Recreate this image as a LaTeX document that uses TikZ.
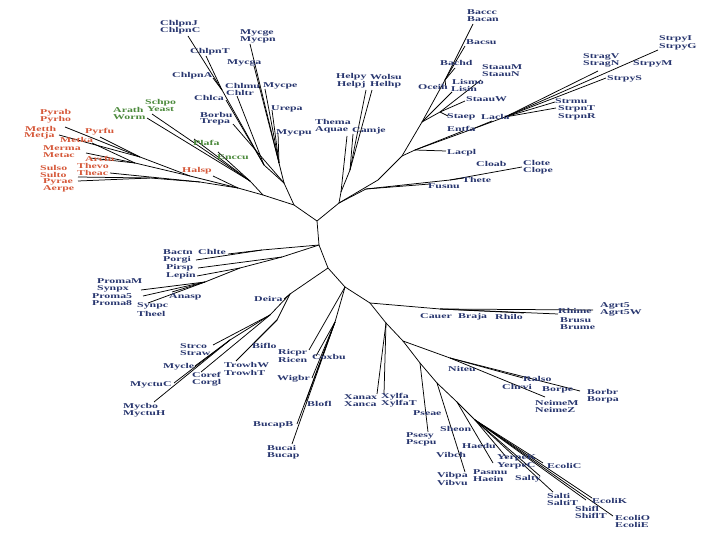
\documentclass[tikz,border=0pt]{standalone}
\usepackage{fontspec}
\newfontfamily\labfont{Liberation Serif}[FakeStretch=1.6]
\definecolor{tblue}{HTML}{28366F}
\definecolor{tred}{HTML}{D6593A}
\definecolor{tgreen}{HTML}{4C8A3C}
\tikzset{
  br/.style={line width=0.75pt, black},
  lab/.style={font=\labfont\bfseries\fontsize{7.4}{7}\selectfont, inner sep=0pt, anchor=west},
  lb/.style={lab, text=tblue},
  lr/.style={lab, text=tred},
  lg/.style={lab, text=tgreen}
}
\begin{document}
\begin{tikzpicture}[x=1pt,y=-1pt]
\useasboundingbox[fill=white] (0,0) rectangle (720,540);
% ---------- internal nodes ----------
\coordinate (R) at (317,221);
\coordinate (B1) at (319,245);
\coordinate (N3) at (328,268);
\coordinate (L0) at (294,205);
\coordinate (UR) at (339,203);
\coordinate (L1) at (263,195);
\coordinate (G) at (284,183);
\coordinate (AR) at (238,188);
\coordinate (EU) at (250,181);
\coordinate (A1) at (200,182);
\coordinate (A2) at (150,178);
\coordinate (A3) at (190,176);
\coordinate (A4) at (140,157);
\coordinate (A5) at (135,163);
\coordinate (CH) at (264,165);
\coordinate (CHp) at (222,90);
\coordinate (MY) at (279,163);
\coordinate (EP) at (341,192);
\coordinate (EP2) at (350,170);
\coordinate (FU) at (366,189);
\coordinate (CLn) at (450,180);
\coordinate (FR) at (378,180);
\coordinate (F1) at (402,156);
\coordinate (BS) at (422,122);
\coordinate (BAC) at (445,80);
\coordinate (STA) at (440,112);
\coordinate (LB) at (415,150);
\coordinate (LC) at (470,130);
\coordinate (ST) at (505,117);
\coordinate (CB) at (262,250);
\coordinate (X1) at (282,257);
\coordinate (X2) at (240,268);
\coordinate (CY) at (205,282);
\coordinate (AC) at (290,294);
\coordinate (AC2) at (270,315);
\coordinate (BT) at (277,320);
\coordinate (MYc) at (230,340);
\coordinate (RK) at (345,287);
\coordinate (RK2) at (335,322);
\coordinate (N4) at (370,303);
\coordinate (AL) at (440,309);
\coordinate (N5) at (386,323);
\coordinate (N6) at (403,341);
\coordinate (BE) at (450,358);
\coordinate (N7) at (420,363);
\coordinate (N8) at (437,383);
\coordinate (N9) at (457,402);
\coordinate (N10) at (475,420);
% ---------- leaf tips ----------
\coordinate (tSulso) at (78,177);
\coordinate (tPyrae) at (78,181);
\coordinate (tThevo) at (110,173);
\coordinate (tHalsp) at (213,176);
\coordinate (tPyrab) at (65,127);
\coordinate (tMetth) at (59,135);
\coordinate (tPyrfu) at (100,137);
\coordinate (tMetka) at (92,143);
\coordinate (tMerma) at (86,153);
\coordinate (tArcfu) at (90,158);
\coordinate (tSchpo) at (152,114);
\coordinate (tArath) at (147,118);
\coordinate (tPlafa) at (194,139);
\coordinate (tEnccu) at (218,152);
\coordinate (tChlpnJ) at (188,36);
\coordinate (tChlpnT) at (206,56);
\coordinate (tChlpnA) at (213,78);
\coordinate (tChlca) at (226,100);
\coordinate (tChlmu) at (237,96);
\coordinate (tBorbu) at (233,124);
\coordinate (tMycge) at (250,44);
\coordinate (tMycga) at (254,66);
\coordinate (tMycpe) at (265,89);
\coordinate (tUrepa) at (272,110);
\coordinate (tMycpu) at (278,133);
\coordinate (tThema) at (347,136);
\coordinate (tHelpy) at (366,90);
\coordinate (tWolsu) at (372,90);
\coordinate (tCamje) at (353,134);
\coordinate (tFusnu) at (430,184);
\coordinate (tThete) at (464,178);
\coordinate (tClote) at (522,167);
\coordinate (tBaccc) at (473,24);
\coordinate (tBacsu) at (465,46);
\coordinate (tBachd) at (455,68);
\coordinate (tOceih) at (446,88);
\coordinate (tLisin) at (452,92);
\coordinate (tStaauM) at (481,80);
\coordinate (tStaauW) at (465,101);
\coordinate (tStaep) at (448,116);
\coordinate (tLacpl) at (446,151);
\coordinate (tEntfa) at (463,131);
\coordinate (tLacla) at (492,121);
\coordinate (tStrpyI) at (658,50);
\coordinate (tStrpyS) at (606,78);
\coordinate (tStragV) at (598,71);
\coordinate (tStrmu) at (555,102);
\coordinate (tStrpn) at (556,108);
\coordinate (tChlte) at (228,254);
\coordinate (tBactn) at (196,260);
\coordinate (tPirsp) at (198,268);
\coordinate (tLepin) at (197,276);
\coordinate (tPromaM) at (141,290);
\coordinate (tProma5) at (143,296);
\coordinate (tSynpc) at (148,303);
\coordinate (tAnasp) at (172,292);
\coordinate (tDeira) at (284,299);
\coordinate (tStrco) at (213,345);
\coordinate (tTrowh) at (236,361);
\coordinate (tBiflo) at (254,343);
\coordinate (tMycle) at (195,366);
\coordinate (tMyctuC) at (174,383);
\coordinate (tMycbo) at (154,402);
\coordinate (tCoref) at (201,372);
\coordinate (tRicpr) at (309,350);
\coordinate (tCoxbu) at (316,356);
\coordinate (tWigbr) at (312,378);
\coordinate (tBlofl) at (306,401);
\coordinate (tBucapB) at (297,424);
\coordinate (tBucai) at (292,444);
\coordinate (tAgr) at (593,310);
\coordinate (tBru) at (558,314);
\coordinate (tRhilo) at (524,313);
\coordinate (tXanax) at (377,394);
\coordinate (tXylfa) at (384,394);
\coordinate (tRalso) at (523,378);
\coordinate (tBorbr) at (580,391);
\coordinate (tNeime) at (545,397);
\coordinate (tPsesy) at (428,432);
\coordinate (tVibpa) at (465,472);
\coordinate (tPasmu) at (493,463);
\coordinate (tYerpe) at (507,458);
\coordinate (tSalty) at (540,476);
\coordinate (tEcoliC) at (543,463);
\coordinate (tSalti) at (553,492);
\coordinate (tShifl) at (586,500);
\coordinate (tEcoliK) at (592,498);
\coordinate (tEcoliO) at (613,516);
% ---------- branches ----------
\draw[br] (L0) -- (R) -- (B1) -- (N3);
\draw[br] (R) -- (UR);
\draw[br] (L0) -- (L1); \draw[br] (L0) -- (G);
\draw[br] (L1) -- (AR); \draw[br] (L1) -- (EU);
\draw[br] (AR) -- (A1) -- (A2) -- (tSulso); \draw[br] (A2) -- (tPyrae);
\draw[br] (A1) -- (tThevo); \draw[br] (AR) -- (tHalsp);
\draw[br] (AR) -- (A3) -- (A4) -- (tPyrab); \draw[br] (A4) -- (tMetth); \draw[br] (A4) -- (tPyrfu);
\draw[br] (A3) -- (A5) -- (tMetka); \draw[br] (A5) -- (tMerma); \draw[br] (A5) -- (tArcfu);
\draw[br] (EU) -- (tSchpo); \draw[br] (EU) -- (tArath); \draw[br] (EU) -- (tPlafa); \draw[br] (EU) -- (tEnccu);
\draw[br] (G) -- (CH) -- (CHp) -- (tChlpnJ); \draw[br] (CHp) -- (tChlpnT); \draw[br] (CHp) -- (tChlpnA);
\draw[br] (CH) -- (tChlca); \draw[br] (CH) -- (tChlmu);
\draw[br] (G) -- (tBorbu);
\draw[br] (G) -- (MY) -- (tMycge); \draw[br] (MY) -- (tMycga); \draw[br] (MY) -- (tMycpe); \draw[br] (MY) -- (tUrepa); \draw[br] (MY) -- (tMycpu);
\draw[br] (UR) -- (EP) -- (tThema); \draw[br] (EP) -- (EP2) -- (tHelpy); \draw[br] (EP2) -- (tWolsu); \draw[br] (EP2) -- (tCamje);
\draw[br] (UR) -- (FU) -- (tFusnu); \draw[br] (FU) -- (CLn) -- (tThete); \draw[br] (CLn) -- (tClote);
\draw[br] (UR) -- (FR) -- (F1) -- (BS) -- (BAC) -- (tBaccc);
\draw[br] (BAC) -- (tBacsu); \draw[br] (BAC) -- (tBachd); \draw[br] (BAC) -- (tOceih);
\draw[br] (BS) -- (tLisin);
\draw[br] (BS) -- (STA) -- (tStaauM); \draw[br] (STA) -- (tStaauW); \draw[br] (STA) -- (tStaep);
\draw[br] (F1) -- (LB) -- (tLacpl); \draw[br] (LB) -- (tEntfa);
\draw[br] (LB) -- (LC) -- (tLacla); \draw[br] (LC) -- (ST) -- (tStrpyI);
\draw[br] (ST) -- (tStrpyS); \draw[br] (ST) -- (tStragV); \draw[br] (ST) -- (tStrmu); \draw[br] (ST) -- (tStrpn);
\draw[br] (B1) -- (CB) -- (tChlte); \draw[br] (CB) -- (tBactn);
\draw[br] (B1) -- (X1) -- (tPirsp); \draw[br] (X1) -- (X2) -- (tLepin);
\draw[br] (X2) -- (CY) -- (tPromaM); \draw[br] (CY) -- (tProma5); \draw[br] (CY) -- (tSynpc); \draw[br] (CY) -- (tAnasp);
\draw[br] (N3) -- (AC) -- (tDeira); \draw[br] (AC) -- (AC2) -- (tStrco);
\draw[br] (AC) -- (BT) -- (tTrowh); \draw[br] (BT) -- (tBiflo);
\draw[br] (AC2) -- (MYc) -- (tMycle); \draw[br] (MYc) -- (tMyctuC); \draw[br] (MYc) -- (tMycbo);
\draw[br] (AC2) -- (tCoref);
\draw[br] (N3) -- (RK) -- (tRicpr);
\draw[br] (RK) -- (RK2) -- (tCoxbu); \draw[br] (RK2) -- (tWigbr); \draw[br] (RK2) -- (tBlofl); \draw[br] (RK2) -- (tBucapB); \draw[br] (RK2) -- (tBucai);
\draw[br] (RK) -- (N4) -- (AL) -- (tAgr); \draw[br] (AL) -- (tBru); \draw[br] (AL) -- (tRhilo);
\draw[br] (N4) -- (N5) -- (tXanax); \draw[br] (N5) -- (tXylfa);
\draw[br] (N5) -- (N6) -- (BE) -- (tRalso); \draw[br] (BE) -- (tBorbr); \draw[br] (BE) -- (tNeime);
\draw[br] (N6) -- (N7) -- (tPsesy);
\draw[br] (N7) -- (N8) -- (tVibpa);
\draw[br] (N8) -- (N9) -- (tPasmu);
\draw[br] (N9) -- (N10) -- (tYerpe);
\draw[br] (N10) -- (tSalty); \draw[br] (N10) -- (tEcoliC); \draw[br] (N10) -- (tSalti);
\draw[br] (N10) -- (tShifl); \draw[br] (N10) -- (tEcoliK); \draw[br] (N10) -- (tEcoliO);
% ---------- labels: Archaea ----------
\node[lr] (lPyrab) at (40,113) {Pyrab};
\node[lr] (lPyrho) at (40,120) {Pyrho};
\node[lr] (lMetth) at (25,129) {Metth};
\node[lr] (lMetja) at (24,136) {Metja};
\node[lr] (lPyrfu) at (85,132) {Pyrfu};
\node[lr] (lMetka) at (60,140) {Metka};
\node[lr] (lMerma) at (43,148.5) {Merma};
\node[lr] (lMetac) at (43,155.5) {Metac};
\node[lr] (lArcfu) at (85,159) {Arcfu};
\node[lr] (lThevo) at (77,166) {Thevo};
\node[lr] (lTheac) at (77,173) {Theac};
\node[lr] (lSulso) at (40,168) {Sulso};
\node[lr] (lSulto) at (40,175) {Sulto};
\node[lr] (lPyrae) at (43,182) {Pyrae};
\node[lr] (lAerpe) at (43,189) {Aerpe};
\node[lr] (lHalsp) at (182,171) {Halsp};
% ---------- labels: Eukaryotes ----------
\node[lg] (lSchpo) at (145,102.5) {Schpo};
\node[lg] (lYeast) at (147,109.5) {Yeast};
\node[lg] (lArath) at (113,110) {Arath};
\node[lg] (lWorm) at (113,117) {Worm};
\node[lg] (lPlafa) at (193,143) {Plafa};
\node[lg] (lEnccu) at (217,157) {Enccu};
% ---------- labels: top ----------
\node[lb] (lChlpnJ) at (160,24) {ChlpnJ};
\node[lb] (lChlpnC) at (160,31) {ChlpnC};
\node[lb] (lChlpnT) at (190,52) {ChlpnT};
\node[lb] (lChlpnA) at (172,76) {ChlpnA};
\node[lb] (lChlmu) at (225,86) {Chlmu};
\node[lb] (lChltr) at (226,93) {Chltr};
\node[lb] (lChlca) at (194,98) {Chlca};
\node[lb] (lBorbu) at (200,115) {Borbu};
\node[lb] (lTrepa) at (200,122) {Trepa};
\node[lb] (lMycge) at (240,33) {Mycge};
\node[lb] (lMycpn) at (240,40) {Mycpn};
\node[lb] (lMycga) at (227,63) {Mycga};
\node[lb] (lMycpe) at (263,86) {Mycpe};
\node[lb] (lUrepa) at (271,109) {Urepa};
\node[lb] (lMycpu) at (276,133) {Mycpu};
\node[lb] (lHelpy) at (336,77) {Helpy};
\node[lb] (lHelpj) at (337,84.5) {Helpj};
\node[lb] (lWolsu) at (370,77) {Wolsu};
\node[lb] (lHelhp) at (370,84.5) {Helhp};
\node[lb] (lThema) at (315,122) {Thema};
\node[lb] (lAquae) at (315,129.5) {Aquae};
\node[lb] (lCamje) at (352,131) {Camje};
% ---------- labels: Firmicutes etc ----------
\node[lb] (lBaccc) at (467,12) {Baccc};
\node[lb] (lBacan) at (467,19) {Bacan};
\node[lb] (lBacsu) at (466,42) {Bacsu};
\node[lb] (lBachd) at (440,63) {Bachd};
\node[lb] (lStaauM) at (482,67) {StaauM};
\node[lb] (lStaauN) at (482,74) {StaauN};
\node[lb] (lOceih) at (418,87) {Oceih};
\node[lb] (lLismo) at (452,82) {Lismo};
\node[lb] (lLisin) at (451,88.5) {Lisin};
\node[lb] (lStaauW) at (466,99) {StaauW};
\node[lb] (lStaep) at (447,117) {Staep};
\node[lb] (lLacla) at (481,117) {Lacla};
\node[lb] (lEntfa) at (447,129) {Entfa};
\node[lb] (lLacpl) at (447,153) {Lacpl};
\node[lb] (lStragV) at (583,57) {StragV};
\node[lb] (lStragN) at (583,64) {StragN};
\node[lb] (lStrpyI) at (659,39) {StrpyI};
\node[lb] (lStrpyG) at (659,46.5) {StrpyG};
\node[lb] (lStrpyM) at (633,64) {StrpyM};
\node[lb] (lStrpyS) at (607,79) {StrpyS};
\node[lb] (lStrmu) at (555,101) {Strmu};
\node[lb] (lStrpnT) at (558,109) {StrpnT};
\node[lb] (lStrpnR) at (558,116.5) {StrpnR};
\node[lb] (lCloab) at (476,164) {Cloab};
\node[lb] (lClote) at (523,163) {Clote};
\node[lb] (lClope) at (523,170.5) {Clope};
\node[lb] (lThete) at (462,180) {Thete};
\node[lb] (lFusnu) at (428,186) {Fusnu};
% ---------- labels: left middle ----------
\node[lb] (lBactn) at (163,252) {Bactn};
\node[lb] (lPorgi) at (163,260) {Porgi};
\node[lb] (lChlte) at (198,252) {Chlte};
\node[lb] (lPirsp) at (166,268) {Pirsp};
\node[lb] (lLepin) at (166,275.5) {Lepin};
\node[lb] (lPromaM) at (97,281) {PromaM};
\node[lb] (lSynpx) at (97,288.5) {Synpx};
\node[lb] (lProma5) at (92,296) {Proma5};
\node[lb] (lProma8) at (92,303) {Proma8};
\node[lb] (lAnasp) at (169,297) {Anasp};
\node[lb] (lSynpc) at (137,306) {Synpc};
\node[lb] (lTheel) at (137,314) {Theel};
% ---------- labels: lower left ----------
\node[lb] (lDeira) at (254,299) {Deira};
\node[lb] (lStrco) at (180,346) {Strco};
\node[lb] (lStraw) at (180,353) {Straw};
\node[lb] (lBiflo) at (252,346) {Biflo};
\node[lb] (lMycle) at (163,367) {Mycle};
\node[lb] (lCoref) at (192,375) {Coref};
\node[lb] (lCorgl) at (192,383) {Corgl};
\node[lb] (lTrowhW) at (224,365) {TrowhW};
\node[lb] (lTrowhT) at (224,373) {TrowhT};
\node[lb] (lMyctuC) at (130,385) {MyctuC};
\node[lb] (lMycbo) at (123,407) {Mycbo};
\node[lb] (lMyctuH) at (123,414) {MyctuH};
% ---------- labels: lower middle ----------
\node[lb] (lRicpr) at (278,353) {Ricpr};
\node[lb] (lRicen) at (278,360) {Ricen};
\node[lb] (lCoxbu) at (312,357) {Coxbu};
\node[lb] (lWigbr) at (277,379) {Wigbr};
\node[lb] (lBlofl) at (307,404) {Blofl};
\node[lb] (lBucapB) at (253,425) {BucapB};
\node[lb] (lBucai) at (267,448) {Bucai};
\node[lb] (lBucap) at (267,455.5) {Bucap};
\node[lb] (lXanax) at (344,397) {Xanax};
\node[lb] (lXanca) at (344,404) {Xanca};
\node[lb] (lXylfa) at (381,397) {Xylfa};
\node[lb] (lXylfaT) at (381,404) {XylfaT};
% ---------- labels: alpha ----------
\node[lb] (lCauer) at (420,316) {Cauer};
\node[lb] (lBraja) at (458,317) {Braja};
\node[lb] (lRhilo) at (495,317) {Rhilo};
\node[lb] (lRhime) at (558,311) {Rhime};
\node[lb] (lAgrt5) at (600,306) {Agrt5};
\node[lb] (lAgrt5W) at (600,313) {Agrt5W};
\node[lb] (lBrusu) at (560,320) {Brusu};
\node[lb] (lBrume) at (560,327) {Brume};
% ---------- labels: beta / gamma ----------
\node[lb] (lNiteu) at (448,369) {Niteu};
\node[lb] (lRalso) at (523,379) {Ralso};
\node[lb] (lChrvi) at (502,387) {Chrvi};
\node[lb] (lBorpe) at (542,390) {Borpe};
\node[lb] (lBorbr) at (587,392) {Borbr};
\node[lb] (lBorpa) at (587,399.5) {Borpa};
\node[lb] (lNeimeM) at (535,403) {NeimeM};
\node[lb] (lNeimeZ) at (535,410) {NeimeZ};
\node[lb] (lPseae) at (413,413) {Pseae};
\node[lb] (lPsesy) at (406,435.5) {Psesy};
\node[lb] (lPscpu) at (406,442.5) {Pscpu};
\node[lb] (lSheon) at (440,429) {Sheon};
\node[lb] (lHaedu) at (462,446) {Haedu};
\node[lb] (lVibch) at (436,455) {Vibch};
\node[lb] (lYerpeK) at (497,458) {YerpeK};
\node[lb] (lYerpeC) at (497,466) {YerpeC};
\node[lb] (lEcoliC) at (547,466) {EcoliC};
\node[lb] (lVibpa) at (437,476) {Vibpa};
\node[lb] (lVibvu) at (437,483) {Vibvu};
\node[lb] (lPasmu) at (473,472) {Pasmu};
\node[lb] (lHaein) at (473,479) {Haein};
\node[lb] (lSalty) at (515,479) {Salty};
\node[lb] (lSalti) at (547,496) {Salti};
\node[lb] (lSaltiT) at (547,503) {SaltiT};
\node[lb] (lShifl) at (575,509) {Shifl};
\node[lb] (lShiflT) at (575,516) {ShiflT};
\node[lb] (lEcoliK) at (592,501) {EcoliK};
\node[lb] (lEcoliO) at (615,518) {EcoliO};
\node[lb] (lEcoliE) at (615,525) {EcoliE};
\end{tikzpicture}
\end{document}
